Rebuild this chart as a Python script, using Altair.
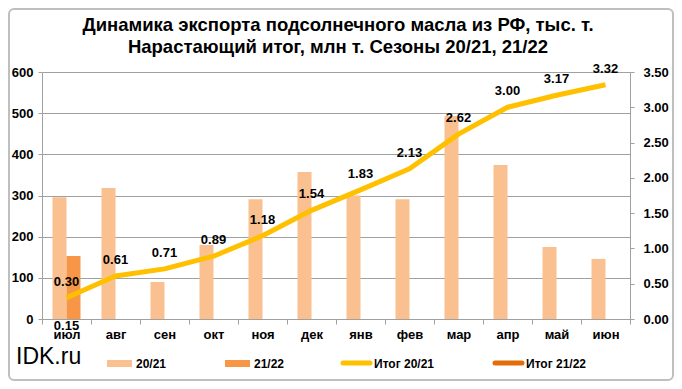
import altair as alt
import pandas as pd

months = ["июл", "авг", "сен", "окт", "ноя", "дек", "янв", "фев", "мар", "апр", "май", "июн"]
exp_2021 = [296, 318, 90, 180, 291, 357, 300, 291, 493, 374, 175, 146]
exp_2122 = [153]
cum_2021 = [0.30, 0.61, 0.71, 0.89, 1.18, 1.54, 1.83, 2.13, 2.62, 3.00, 3.17, 3.32]
cum_2122 = [0.15]
seasons = ["20/21", "21/22"]
title_lines = ["Динамика экспорта подсолнечного масла из РФ, тыс. т.",
               "Нарастающий итог, млн т. Сезоны 20/21, 21/22"]

C_BAR1 = "#FAC090"
C_BAR2 = "#F79646"
C_LINE1 = "#FFC000"
C_LINE2 = "#E46C0A"
FONT = "Liberation Sans"
GRID = "#A0A0A0"

bar_df = pd.DataFrame(
    [{"month": m, "season": seasons[0], "value": v} for m, v in zip(months, exp_2021)]
    + [{"month": m, "season": seasons[1], "value": v} for m, v in zip(months, exp_2122)]
)
cum1_df = pd.DataFrame({"month": months, "cum": cum_2021, "lab": [f"{v:.2f}" for v in cum_2021]})
cum2_df = pd.DataFrame({"month": months[:len(cum_2122)], "cum": cum_2122,
                        "lab": [f"{v:.2f}" for v in cum_2122]})

xaxis = alt.Axis(labelAngle=0, labelFont=FONT, labelFontSize=13, labelFontWeight="bold",
                 labelColor="black", domainColor=GRID, tickColor=GRID, tickSize=5,
                 tickBand="extent", labelPadding=4, grid=False)
xenc = alt.X("month:N", sort=months, title=None,
             scale=alt.Scale(paddingInner=0, paddingOuter=0), axis=xaxis)

bars = alt.Chart(bar_df).mark_bar().encode(
    x=xenc,
    xOffset=alt.XOffset("season:N", scale=alt.Scale(domain=seasons, paddingInner=0, paddingOuter=0.75)),
    y=alt.Y("value:Q", title=None, scale=alt.Scale(domain=[0, 600], nice=False),
            axis=alt.Axis(values=[0, 100, 200, 300, 400, 500, 600], labelFont=FONT, labelFontSize=13,
                          labelFontWeight="bold", labelColor="black", domainColor=GRID,
                          tickColor=GRID, tickSize=4, gridColor=GRID, gridWidth=1, labelPadding=5,
                          labelOverlap=False)),
    color=alt.Color("season:N", scale=alt.Scale(domain=seasons, range=[C_BAR1, C_BAR2]), legend=None),
)

yright = alt.Y("cum:Q", title=None, scale=alt.Scale(domain=[0, 3.5], nice=False),
               axis=alt.Axis(orient="right", values=[0, 0.5, 1, 1.5, 2, 2.5, 3, 3.5], format=".2f",
                             labelFont=FONT, labelFontSize=13, labelFontWeight="bold",
                             labelColor="black", domainColor=GRID, tickColor=GRID, tickSize=4,
                             grid=False, labelPadding=9, labelOverlap=False, labelFlush=False))

line1 = alt.Chart(cum1_df).mark_line(color=C_LINE1, strokeWidth=5, strokeJoin="round").encode(
    x=xenc, y=yright)
lab1 = alt.Chart(cum1_df).mark_text(font=FONT, fontSize=13, fontWeight="bold", color="black",
                                    dy=-16, baseline="middle").encode(x=xenc, y=yright, text="lab:N")
line2 = alt.Chart(cum2_df).mark_line(color=C_LINE2, strokeWidth=5).encode(x=xenc, y=yright)
lab2 = alt.Chart(cum2_df).mark_text(font=FONT, fontSize=13, fontWeight="bold", color="black",
                                    dy=18, baseline="middle").encode(x=xenc, y=yright, text="lab:N")
right = alt.layer(line1, line2, lab1, lab2)

one = pd.DataFrame({"a": [0]})
border = alt.Chart(one).mark_rect(fill=None, stroke="#BFBFBF", strokeWidth=2, cornerRadius=5).encode(
    x=alt.value(-33), x2=alt.value(631), y=alt.value(-63), y2=alt.value(308))
idk = alt.Chart(one).mark_text(text="IDK.ru", font=FONT, fontSize=23, align="left",
                               baseline="middle", color="black").encode(x=alt.value(-26), y=alt.value(285))
titles = [
    alt.Chart(one).mark_text(text=t, font=FONT, fontSize=18.5, fontWeight="bold", align="center",
                             baseline="middle", color="black").encode(x=alt.value(296), y=alt.value(yy))
    for t, yy in zip(title_lines, [-47, -25])
]

leg_layers = []
leg_labels = ["20/21", "21/22", "Итог 20/21", "Итог 21/22"]
leg_colors = [C_BAR1, C_BAR2, C_LINE1, C_LINE2]
leg_x = [65, 183, 299, 451]
for i, (lab, col, x0) in enumerate(zip(leg_labels, leg_colors, leg_x)):
    if i < 2:
        sw = alt.Chart(one).mark_rect(color=col).encode(
            x=alt.value(x0), x2=alt.value(x0 + 25), y=alt.value(288), y2=alt.value(295))
        tx = x0 + 29
    else:
        sw = alt.Chart(one).mark_rule(color=col, strokeWidth=5, strokeCap="round").encode(
            x=alt.value(x0 + 2), x2=alt.value(x0 + 29), y=alt.value(291))
        tx = x0 + 33
    t = alt.Chart(one).mark_text(text=lab, font=FONT, fontSize=12, fontWeight="bold", align="left",
                                 baseline="middle", color="black").encode(x=alt.value(tx), y=alt.value(292))
    leg_layers += [sw, t]

chart = alt.layer(bars, right).resolve_scale(y="independent")
chart = alt.layer(chart, border, idk, *titles, *leg_layers).properties(
    width=588, height=247,
    autosize=alt.AutoSizeParams(type="none"),
    padding={"left": 34, "top": 64, "right": 44, "bottom": 62},
).configure_view(stroke=None).configure(background="white")

chart.save("out.html", embed_options={"renderer": "svg", "actions": False})
